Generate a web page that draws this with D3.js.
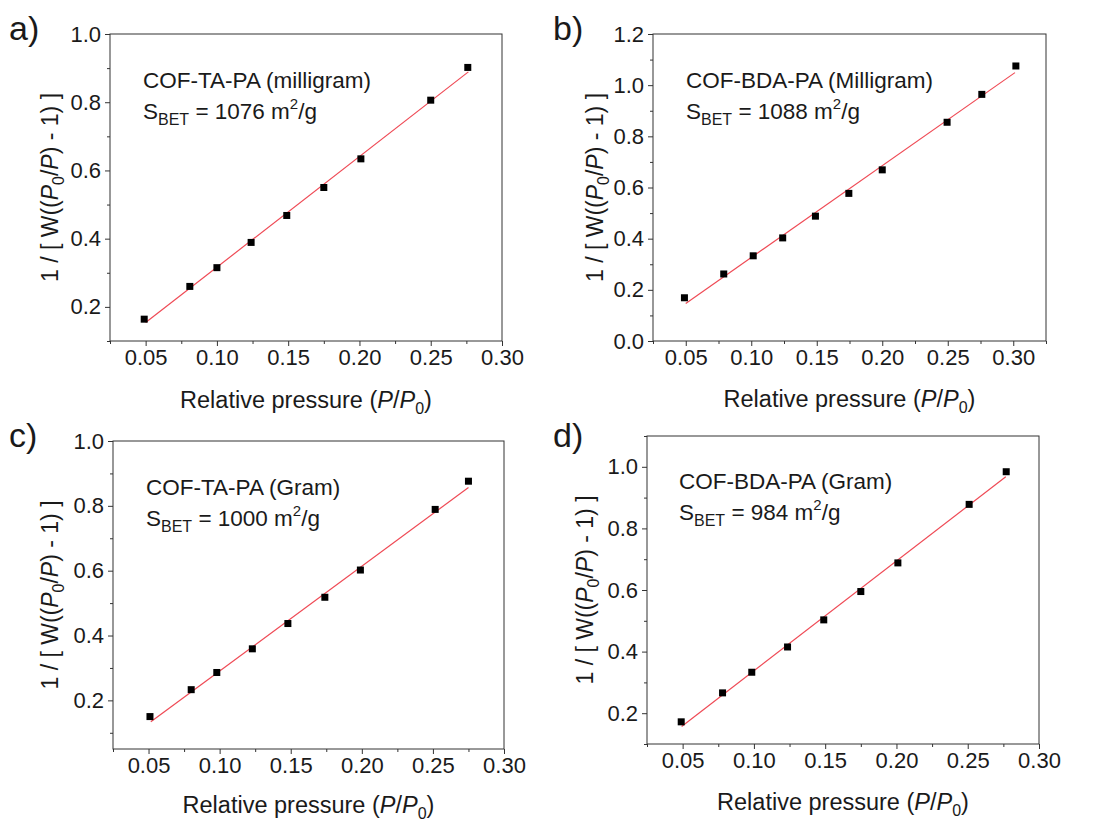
<!DOCTYPE html>
<html>
<head>
<meta charset="utf-8">
<script src="https://cdn.jsdelivr.net/npm/d3@7"></script>
<style>
  body { margin: 0; background: #fff; }
  svg { font-family: "Liberation Sans", Arial, sans-serif; }
</style>
</head>
<body>
<svg id="drawing_region" width="1097" height="824"></svg>
<script>
// ---- data ----
var xA = [0.049, 0.081, 0.100, 0.124, 0.149, 0.175, 0.201, 0.250, 0.276];
var yA = [0.164, 0.260, 0.315, 0.389, 0.468, 0.550, 0.634, 0.806, 0.902];
var fitA = [[0.050, 0.154], [0.2764, 0.889]];

var xB = [0.049, 0.079, 0.1015, 0.124, 0.149, 0.1745, 0.200, 0.2495, 0.276, 0.302];
var yB = [0.169, 0.262, 0.333, 0.403, 0.488, 0.577, 0.669, 0.855, 0.964, 1.075];
var fitB = [[0.050, 0.147], [0.3013, 1.049]];

var xC = [0.051, 0.080, 0.098, 0.123, 0.148, 0.174, 0.199, 0.2516, 0.275];
var yC = [0.150, 0.233, 0.286, 0.359, 0.437, 0.518, 0.602, 0.789, 0.876];
var fitC = [[0.0516, 0.134], [0.275, 0.8565]];

var xD = [0.049, 0.078, 0.0985, 0.1236, 0.149, 0.175, 0.201, 0.251, 0.277];
var yD = [0.172, 0.266, 0.333, 0.415, 0.503, 0.595, 0.688, 0.878, 0.984];
var fitD = [[0.0493, 0.157], [0.2767, 0.9676]];

var xTicks = [0.05, 0.10, 0.15, 0.20, 0.25, 0.30];
var xMinorAB = [0.025, 0.075, 0.125, 0.175, 0.225, 0.275, 0.325];

var panels = [
    { tag: 'a)', name: 'COF-TA-PA (milligram)', sbet: '1076', xs: xA, ys: yA, fit: fitA,
      xdom: [0.025, 0.30], ydom: [0.1, 1.0], yTicks: [0.2, 0.4, 0.6, 0.8, 1.0], yMinor: [0.1, 0.3, 0.5, 0.7, 0.9],
      box: {left: 110, right: 502, top: 34, bottom: 341},
      tagPos: [9, 40], notePos: [143, 88], ylabX: 50, titleY: 408 },
    { tag: 'b)', name: 'COF-BDA-PA (Milligram)', sbet: '1088', xs: xB, ys: yB, fit: fitB,
      xdom: [0.025, 0.325], ydom: [0.0, 1.2], yTicks: [0.0, 0.2, 0.4, 0.6, 0.8, 1.0, 1.2], yMinor: [0.1, 0.3, 0.5, 0.7, 0.9, 1.1],
      box: {left: 653, right: 1046, top: 34, bottom: 341},
      tagPos: [553, 40], notePos: [686, 88], ylabX: 595, titleY: 407 },
    { tag: 'c)', name: 'COF-TA-PA (Gram)', sbet: '1000', xs: xC, ys: yC, fit: fitC,
      xdom: [0.025, 0.30], ydom: [0.05, 1.0], yTicks: [0.2, 0.4, 0.6, 0.8, 1.0], yMinor: [0.1, 0.3, 0.5, 0.7, 0.9],
      box: {left: 113, right: 504, top: 441, bottom: 749},
      tagPos: [9, 447], notePos: [146, 495], ylabX: 50, titleY: 813 },
    { tag: 'd)', name: 'COF-BDA-PA (Gram)', sbet: '984', xs: xD, ys: yD, fit: fitD,
      xdom: [0.025, 0.30], ydom: [0.1, 1.1], yTicks: [0.2, 0.4, 0.6, 0.8, 1.0], yMinor: [0.1, 0.3, 0.5, 0.7, 0.9, 1.1],
      box: {left: 647, right: 1039, top: 436, bottom: 744},
      tagPos: [553, 447], notePos: [679, 489], ylabX: 585, titleY: 810 }
];

var svg = d3.select('#drawing_region');
var ink = '#1a1a1a';

panels.forEach(p => {
    var b = p.box;
    var xscale = d3.scaleLinear().domain(p.xdom).range([b.left, b.right]);
    var yscale = d3.scaleLinear().domain(p.ydom).range([b.bottom, b.top]);
    var g = svg.append('g');

    // minor ticks
    var xMinor = xMinorAB.filter(v => v >= p.xdom[0] - 1e-9 && v <= p.xdom[1] + 1e-9);
    g.append('g')
        .attr('transform', `translate(0, ${b.bottom})`)
        .call(d3.axisBottom(xscale).tickValues(xMinor).tickSize(3).tickFormat(''))
        .call(s => s.select('.domain').remove());
    var yMinor = p.yMinor.filter(v => v >= p.ydom[0] - 1e-9 && v <= p.ydom[1] + 1e-9);
    g.append('g')
        .attr('transform', `translate(${b.left}, 0)`)
        .call(d3.axisLeft(yscale).tickValues(yMinor).tickSize(3).tickFormat(''))
        .call(s => s.select('.domain').remove());

    // major ticks
    var xg = g.append('g')
        .attr('transform', `translate(0, ${b.bottom})`)
        .call(d3.axisBottom(xscale).tickValues(xTicks).tickSize(5).tickPadding(3).tickFormat(d3.format('.2f')));
    xg.select('.domain').remove();
    xg.selectAll('text').attr('font-size', '22px').attr('fill', ink);

    var yg = g.append('g')
        .attr('transform', `translate(${b.left}, 0)`)
        .call(d3.axisLeft(yscale).tickValues(p.yTicks).tickSize(5).tickPadding(4).tickFormat(d3.format('.1f')));
    yg.select('.domain').remove();
    yg.selectAll('text').attr('font-size', '22px').attr('fill', ink);

    g.selectAll('.tick line').attr('stroke', '#333');

    // frame
    g.append('rect')
        .attr('x', b.left).attr('y', b.top)
        .attr('width', b.right - b.left).attr('height', b.bottom - b.top)
        .attr('fill', 'none').attr('stroke', '#333').attr('stroke-width', 1);

    // fit line
    g.append('line')
        .attr('x1', xscale(p.fit[0][0])).attr('y1', yscale(p.fit[0][1]))
        .attr('x2', xscale(p.fit[1][0])).attr('y2', yscale(p.fit[1][1]))
        .attr('stroke', '#ef4a55').attr('stroke-width', 1.2);

    // points
    var pts = p.xs.map((x, i) => ({x: x, y: p.ys[i]}));
    g.selectAll('rect.pt')
        .data(pts)
        .join('rect')
        .attr('class', 'pt')
        .attr('x', d => xscale(d.x) - 3.5)
        .attr('y', d => yscale(d.y) - 3.5)
        .attr('width', 7).attr('height', 7)
        .attr('fill', '#000');

    // panel tag
    g.append('text')
        .attr('x', p.tagPos[0]).attr('y', p.tagPos[1])
        .attr('font-size', '34px').attr('fill', ink)
        .text(p.tag);

    // annotation
    g.append('text')
        .attr('x', p.notePos[0]).attr('y', p.notePos[1])
        .attr('font-size', '22.5px').attr('fill', ink)
        .text(p.name);
    var s = g.append('text')
        .attr('x', p.notePos[0]).attr('y', p.notePos[1] + 31)
        .attr('font-size', '22.5px').attr('fill', ink);
    s.append('tspan').text('S');
    s.append('tspan').attr('font-size', '16px').attr('dy', 6).text('BET');
    s.append('tspan').attr('dy', -6).text(` = ${p.sbet} m`);
    s.append('tspan').attr('font-size', '15px').attr('dy', -10).text('2');
    s.append('tspan').attr('dy', 10).text('/g');

    // x title
    var xt = g.append('text')
        .attr('x', (b.left + b.right) / 2).attr('y', p.titleY)
        .attr('text-anchor', 'middle')
        .attr('font-size', '23.5px').attr('fill', ink);
    xt.append('tspan').text('Relative pressure (');
    xt.append('tspan').attr('font-style', 'italic').text('P');
    xt.append('tspan').text('/');
    xt.append('tspan').attr('font-style', 'italic').text('P');
    xt.append('tspan').attr('font-size', '16px').attr('dy', 6).text('0');
    xt.append('tspan').attr('dy', -6).text(')');

    // y title
    var yt = g.append('text')
        .attr('transform', `translate(${p.ylabX}, ${(b.top + b.bottom) / 2}) rotate(-90)`)
        .attr('text-anchor', 'middle')
        .attr('dy', '0.35em')
        .attr('font-size', '23px').attr('fill', ink);
    yt.append('tspan').text('1 / [ W((');
    yt.append('tspan').attr('font-style', 'italic').text('P');
    yt.append('tspan').attr('font-size', '16px').attr('dy', 6).text('0');
    yt.append('tspan').attr('dy', -6).text('/');
    yt.append('tspan').attr('font-style', 'italic').text('P');
    yt.append('tspan').text(') - 1) ]');
});
</script>
</body>
</html>
